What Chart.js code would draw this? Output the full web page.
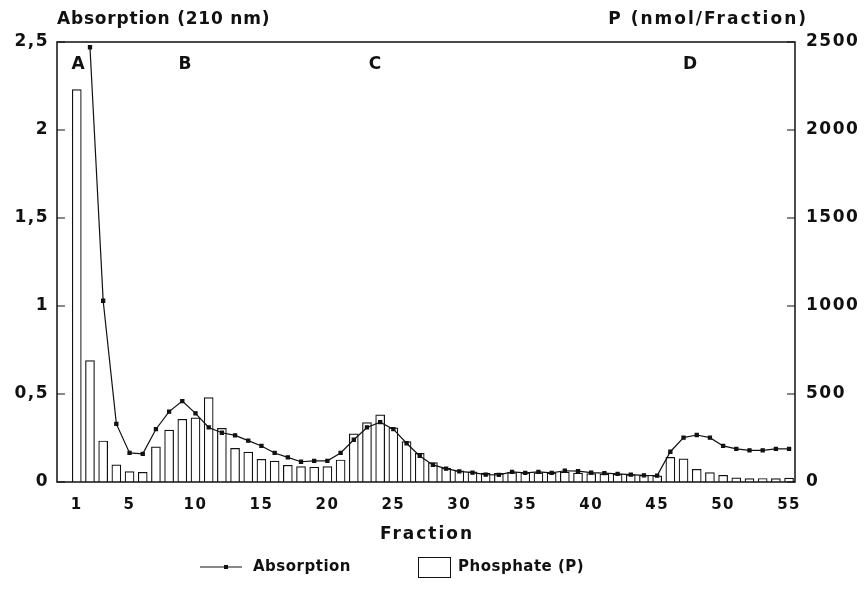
<!DOCTYPE html>
<html>
<head>
<meta charset="utf-8">
<script src="https://cdn.jsdelivr.net/npm/chart.js@4.4.1/dist/chart.umd.min.js"></script>
<style>
  html, body { margin: 0; padding: 0; background: #fff; }
  #wrap { width: 867px; height: 606px; }
</style>
</head>
<body>
<div id="wrap"><canvas id="fractionChart" width="867" height="606"></canvas></div>
<script>
const fractions = [1, 2, 3, 4, 5, 6, 7, 8, 9, 10, 11, 12, 13, 14, 15, 16, 17, 18, 19, 20,
  21, 22, 23, 24, 25, 26, 27, 28, 29, 30, 31, 32, 33, 34, 35, 36, 37, 38, 39, 40,
  41, 42, 43, 44, 45, 46, 47, 48, 49, 50, 51, 52, 53, 54, 55];

// absorption at 210 nm (left axis)
const absorption = [null, 2.47, 1.03, 0.33, 0.165, 0.16, 0.30, 0.40, 0.46, 0.39,
  0.31, 0.28, 0.265, 0.235, 0.205, 0.165, 0.14, 0.115, 0.12, 0.12,
  0.165, 0.24, 0.31, 0.34, 0.30, 0.22, 0.148, 0.097, 0.076, 0.06,
  0.053, 0.042, 0.04, 0.057, 0.052, 0.057, 0.052, 0.064, 0.062, 0.053,
  0.05, 0.046, 0.042, 0.038, 0.036, 0.172, 0.252, 0.267, 0.252, 0.205,
  0.188, 0.18, 0.18, 0.188, 0.188];

// phosphate, nmol per fraction (right axis)
const phosphate = [2230, 690, 233, 97, 59, 55, 200, 295, 356, 365,
  479, 305, 191, 170, 129, 119, 95, 87, 84, 87,
  125, 273, 337, 381, 308, 229, 163, 110, 78, 64,
  58, 50, 49, 53, 52, 52, 50, 56, 50, 48,
  45, 44, 40, 38, 35, 140, 131, 72, 53, 38,
  23, 19, 20, 19, 22];

const xTicks = [1, 5, 10, 15, 20, 25, 30, 35, 40, 45, 50, 55];
const peakNames = ["A", "B", "C", "D"];
const peakFractions = [1.1, 9.2, 23.6, 47.5];

const FONT = "'DejaVu Sans', 'Liberation Sans', sans-serif";
const INK = "#111";

const decor = {
  id: "decor",
  beforeDraw(chart) {
    // the old plot lettering is quite widely spaced
    chart.ctx.letterSpacing = "1.5px";
  },
  afterDraw(chart) {
    const { ctx, chartArea: a, scales } = chart;
    ctx.save();
    ctx.strokeStyle = INK;
    ctx.fillStyle = INK;
    ctx.lineWidth = 1.5;
    ctx.strokeRect(a.left, a.top, a.right - a.left, a.bottom - a.top);

    // inward tick marks
    ctx.lineWidth = 1;
    ctx.beginPath();
    scales.y.ticks.forEach((t) => {
      const y = scales.y.getPixelForValue(t.value);
      ctx.moveTo(a.left, y);
      ctx.lineTo(a.left + 8, y);
    });
    scales.y1.ticks.forEach((t) => {
      const y = scales.y1.getPixelForValue(t.value);
      ctx.moveTo(a.right, y);
      ctx.lineTo(a.right - 8, y);
    });
    ctx.stroke();

    ctx.font = "bold 17px " + FONT;
    ctx.textBaseline = "middle";
    ctx.textAlign = "left";
    ctx.letterSpacing = "0.8px";
    ctx.fillText("Absorption (210 nm)", a.left, 20);
    ctx.textAlign = "right";
    ctx.letterSpacing = "2px";
    ctx.fillText("P (nmol/Fraction)", a.right + 13, 20);

    ctx.textAlign = "center";
    ctx.font = "bold 17px " + FONT;
    ctx.letterSpacing = "2px";
    ctx.fillText("Fraction", (a.left + a.right) / 2 + 1, 535);

    ctx.letterSpacing = "0px";
    peakNames.forEach((name, i) => {
      ctx.fillText(name, scales.x.getPixelForValue(peakFractions[i]), scales.y.getPixelForValue(2.37));
    });

    // legend
    const ly = 567;
    ctx.font = "bold 15px " + FONT;
    ctx.letterSpacing = "0.5px";
    ctx.textAlign = "left";
    ctx.lineWidth = 1.2;
    ctx.beginPath();
    ctx.moveTo(200, ly);
    ctx.lineTo(242, ly);
    ctx.stroke();
    ctx.fillRect(224, ly - 2, 4, 4);
    ctx.fillText("Absorption", 253, ly);
    ctx.lineWidth = 1;
    ctx.strokeRect(418.5, 557.5, 32, 20);
    ctx.fillText("Phosphate (P)", 458, ly);
    ctx.restore();
  },
};

new Chart(document.getElementById("fractionChart"), {
  type: "bar",
  data: {
    datasets: [
      {
        type: "line",
        label: "Absorption",
        data: fractions.map((f, i) => ({ x: f, y: absorption[i] })),
        yAxisID: "y",
        borderColor: INK,
        borderWidth: 1.2,
        backgroundColor: INK,
        pointStyle: "rect",
        pointRadius: 2.2,
        tension: 0,
        spanGaps: false,
        order: 0,
      },
      {
        type: "bar",
        label: "Phosphate (P)",
        data: fractions.map((f, i) => ({ x: f, y: phosphate[i] })),
        yAxisID: "y1",
        backgroundColor: "#fff",
        borderColor: INK,
        borderWidth: 1.2,
        barThickness: 9,
        order: 1,
      },
    ],
  },
  options: {
    responsive: false,
    animation: false,
    events: [],
    layout: { padding: { top: 42, bottom: 49, left: 0, right: 0 } },
    plugins: {
      legend: { display: false },
      tooltip: { enabled: false },
    },
    scales: {
      x: {
        type: "linear",
        min: -0.5,
        max: 55.45,
        offset: false,
        grid: { display: false, drawTicks: false },
        border: { display: false },
        afterBuildTicks: (scale) => {
          scale.ticks = xTicks.map((v) => ({ value: v }));
        },
        afterFit: (scale) => {
          scale.height = 75;
        },
        ticks: {
          color: INK,
          padding: 14,
          autoSkip: false,
          maxRotation: 0,
          font: { family: FONT, size: 15, weight: "bold" },
          callback: (v) => String(v),
        },
      },
      y: {
        position: "left",
        min: 0,
        max: 2.5,
        grid: { display: false, drawTicks: false },
        border: { display: false },
        afterFit: (scale) => {
          scale.width = 57;
        },
        ticks: {
          stepSize: 0.5,
          color: INK,
          padding: 8,
          font: { family: FONT, size: 17, weight: "bold" },
          callback: (v) => String(v).replace(".", ","),
        },
      },
      y1: {
        position: "right",
        min: 0,
        max: 2500,
        grid: { display: false, drawTicks: false },
        border: { display: false },
        afterFit: (scale) => {
          scale.width = 72;
        },
        ticks: {
          stepSize: 500,
          color: INK,
          padding: 11,
          font: { family: FONT, size: 17, weight: "bold" },
          callback: (v) => String(v),
        },
      },
    },
  },
  plugins: [decor],
});
</script>
</body>
</html>
